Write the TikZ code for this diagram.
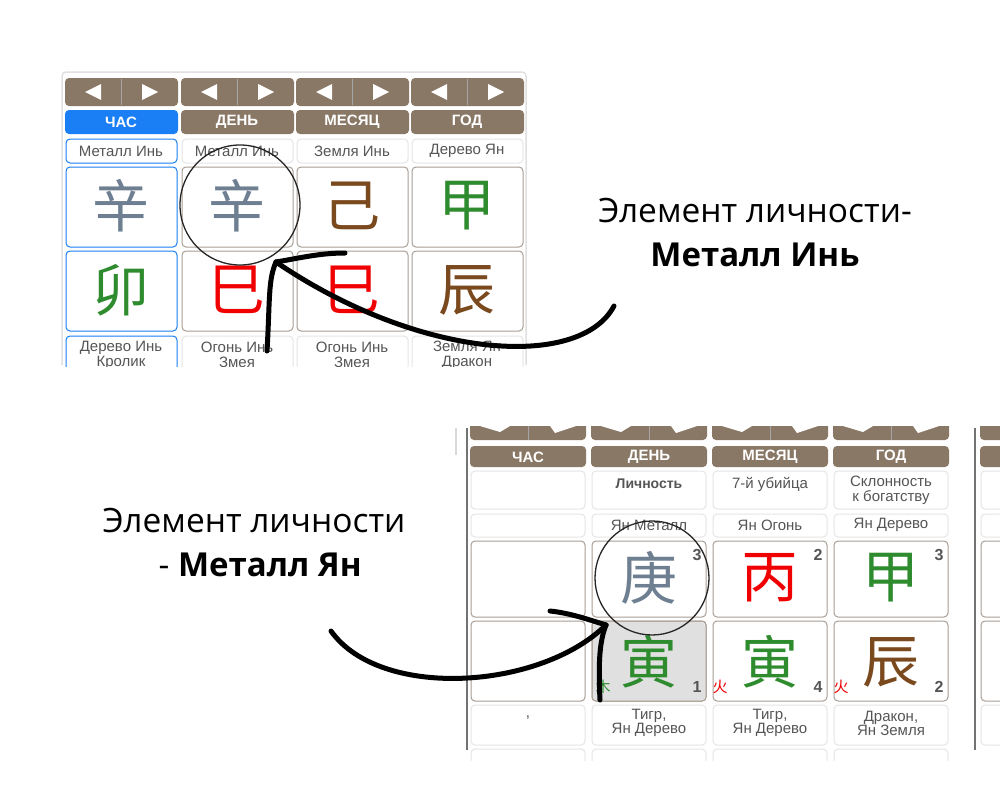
\documentclass[tikz,border=0pt]{standalone}
\usepackage{fontspec}
\setmainfont{Open Sans}
\newfontfamily\ar{Liberation Sans}
\newfontfamily\cjk{Noto Sans CJK SC}
\definecolor{btn}{HTML}{8A7866}
\definecolor{cellb}{HTML}{A89E94}
\definecolor{blu}{HTML}{1A7FF5}
\definecolor{stemg}{HTML}{6E7F92}
\definecolor{grn}{HTML}{2E8B2E}
\definecolor{brn}{HTML}{7A4A1E}
\definecolor{rd}{HTML}{F00000}
\definecolor{txg}{HTML}{555555}
\tikzset{
 cell/.style={draw=cellb,line width=1pt,rounded corners=4pt,fill=white},
 bcell/.style={draw=blu,line width=1pt,rounded corners=4pt,fill=white},
 lcell/.style={draw=black!10,line width=1pt,rounded corners=4pt,fill=white},
 hdr/.style={fill=btn,rounded corners=4pt},
 htxt/.style={text=white,font=\ar\bfseries\fontsize{15}{16}\selectfont},
 small/.style={text=txg,font=\ar\fontsize{15}{15}\selectfont,align=center},
 big/.style={font=\cjk\fontsize{57}{60}\selectfont},
 pen/.style={line width=5pt,line cap=round,black},
 ring/.style={draw=black!85,line width=1.3pt},
 captxt/.style={font=\fontsize{33.5}{38}\selectfont}
}
\begin{document}
\begin{tikzpicture}[x=1pt,y=-1pt]
\useasboundingbox (0,0) rectangle (1000,800);
\fill[white] (0,0) rectangle (1000,800);
% ===== top table =====
\draw[black!12,line width=1.5pt,rounded corners=4pt] (62,365) -- (62,72) -- (526,72) -- (526,365);
\foreach \x in {65,181,296,411}{
 \fill[hdr] (\x,78) rectangle +(113,28);
 \draw[black!35,line width=1pt] (\x+56,79) -- (\x+56,105);
 \fill[white] (\x+20,92) -- (\x+36,84) -- (\x+36,100) -- cycle;
 \fill[white] (\x+93,92) -- (\x+77,84) -- (\x+77,100) -- cycle;
}
\fill[blu,rounded corners=4pt] (65,110) rectangle (178,134);
\foreach \x in {181,296,411}{\fill[hdr] (\x,110) rectangle +(113,24);}
\node[htxt] (th1) at (121,122) {ЧАС};
\node[htxt] (th2) at (237,122) {ДЕНЬ};
\node[htxt] (th3) at (352,122) {МЕСЯЦ};
\node[htxt] (th4) at (467,122) {ГОД};
\draw[bcell] (66,139) rectangle (177,163);
\foreach \x in {182,297,412}{\draw[lcell] (\x,139) rectangle +(111,24);}
\node[small] (tl1) at (121,151) {Металл Инь};
\node[small] (tl2) at (237,151) {Металл Инь};
\node[small] (tl3) at (352,151) {Земля Инь};
\node[small] (tl4) at (467,151) {Дерево Ян};
\draw[bcell] (66,167) rectangle (177,247);
\draw[bcell] (66,251) rectangle (177,331);
\foreach \x in {182,297,412}{\draw[cell] (\x,167) rectangle +(111,80);\draw[cell] (\x,251) rectangle +(111,80);}
\node[big,text=stemg] (ts1) at (121,206) {辛};
\node[big,text=stemg] (ts2) at (237,206) {辛};
\node[big,text=brn] (ts3) at (352,206) {己};
\node[big,text=grn] (ts4) at (467,206) {甲};
\node[big,text=grn] (tb1) at (121,290) {卯};
\node[big,text=rd] (tb2) at (237,290) {巳};
\node[big,text=rd] (tb3) at (352,290) {巳};
\node[big,text=brn] (tb4) at (467,290) {辰};
\begin{scope}
\clip (50,334) rectangle (540,366);
\draw[bcell] (66,336) rectangle (177,380);
\foreach \x in {182,297,412}{\draw[lcell] (\x,336) rectangle +(111,44);}
\node[small] (tn1) at (121,355) {Дерево Инь\\Кролик};
\node[small] (tn2) at (237,355) {Огонь Инь\\Змея};
\node[small] (tn3) at (352,355) {Огонь Инь\\Змея};
\node[small] (tn4) at (467,355) {Земля Ян\\Дракон};
\end{scope}
\node[ring,circle,minimum size=120pt] (c1) at (240,205) {};
% ===== bottom table =====
\draw[black!55,line width=1.2pt] (467,428) -- (467,750);
\draw[black!55,line width=1.2pt] (975,428) -- (975,750);
\draw[black!15,line width=2pt] (456,428) -- (456,455);
\begin{scope}
\clip (460,426) rectangle (1000,760);
\foreach \x in {470,591,712,833}{
 \fill[hdr] (\x,418) rectangle +(116,22);
 \fill[white] (\x+10,426) -- (\x+40,426) -- (\x+30,432) -- cycle;
 \fill[white] (\x+80,426) -- (\x+106,426) -- (\x+85,433) -- cycle;
 \draw[black!35] (\x+58,426) -- (\x+58,440);
 \fill[hdr] (\x,446) rectangle +(116,21);
 \draw[lcell] (\x+1,471) rectangle +(114,38);
 \draw[lcell] (\x+1,514) rectangle +(114,23);
 \draw[cell] (\x+1,541) rectangle +(114,76);
 \draw[cell] (\x+1,621) rectangle +(114,80);
 \draw[lcell] (\x+1,705) rectangle +(114,40);
 \draw[lcell] (\x+1,749) rectangle +(114,30);
}
\fill[hdr] (980,446) rectangle +(30,21);
\fill[hdr] (980,418) rectangle +(30,22);
\draw[lcell] (981,471) rectangle +(30,38);
\draw[lcell] (981,514) rectangle +(30,23);
\draw[cell] (981,541) rectangle +(30,76);
\draw[cell] (981,621) rectangle +(30,80);
\draw[lcell] (981,705) rectangle +(30,40);
\end{scope}
\fill[black!12,rounded corners=4pt] (593,622) rectangle (705,700);
\draw[cell,fill=none] (592,621) rectangle +(114,80);
\node[htxt] (bh1) at (528,457) {ЧАС};
\node[htxt] (bh2) at (649,457) {ДЕНЬ};
\node[htxt] (bh3) at (770,457) {МЕСЯЦ};
\node[htxt] (bh4) at (891,457) {ГОД};
\node[small,font=\ar\bfseries\fontsize{14}{15}\selectfont] (br2) at (649,484) {Личность};
\node[small] (br3) at (770,484) {7-й убийца};
\node[small,font=\ar\fontsize{15}{15}\selectfont] (br4) at (891,490) {Склонность\\к богатству};
\node[small] (bl2) at (649,525) {Ян Металл};
\node[small] (bl3) at (770,525) {Ян Огонь};
\node[small] (bl4) at (891,525) {Ян Дерево};
\node[big,text=stemg] (bs2) at (649,578) {庚};
\node[big,text=rd] (bs3) at (770,578) {丙};
\node[big,text=grn] (bs4) at (891,578) {甲};
\node[big,text=grn] (bb2) at (649,662) {寅};
\node[big,text=grn] (bb3) at (770,662) {寅};
\node[big,text=brn] (bb4) at (891,662) {辰};
\tikzset{num/.style={text=txg,font=\ar\bfseries\fontsize{16}{16}\selectfont}}
\node[num] (n1) at (697,555) {3};
\node[num] (n2) at (818,555) {2};
\node[num] (n3) at (939,555) {3};
\node[num] (n4) at (697,687) {1};
\node[num] (n5) at (818,687) {4};
\node[num] (n6) at (939,687) {2};
\tikzset{tiny/.style={font=\cjk\fontsize{15}{15}\selectfont}}
\node[tiny,text=grn] (m1) at (603,687) {木};
\node[tiny,text=rd] (m2) at (720,687) {火};
\node[tiny,text=rd] (m3) at (841,687) {火};
\node[small,font=\ar\fontsize{15}{14}\selectfont] (bn2) at (649,723) {Тигр,\\Ян Дерево};
\node[small,font=\ar\fontsize{15}{14}\selectfont] (bn3) at (770,723) {Тигр,\\Ян Дерево};
\node[small,font=\ar\fontsize{15}{14}\selectfont] (bn4) at (891,723) {Дракон,\\Ян Земля};
\node[small] (bn1) at (528,718) {,};
\node[ring,circle,minimum size=114pt] (c2) at (652,578) {};
% ===== captions =====
\node[captxt] (cap1) at (755,211) {Элемент личности-};
\node[captxt,font=\bfseries\fontsize{33}{38}\selectfont] (cap2) at (755,255) {Металл Инь};
\node[captxt] (cap3) at (254,521) {Элемент личности};
\node[captxt,anchor=west] (cap4) at (155,565) {- \textbf{\fontsize{33}{38}\selectfont Металл Ян}};
% ===== arrows =====
\coordinate (a1s) at (614,306);
\coordinate (a1t) at (276,262);
\coordinate (a1e) at (267,351);
\coordinate (a1b) at (345,253);
\draw[pen] (a1s) .. controls (580,370) and (420,360) .. (a1t);
\draw[pen] (a1e) .. controls (270,300) and (268,280) .. (a1t);
\draw[pen] (a1t) .. controls (300,258) and (320,253) .. (a1b);
\coordinate (a2s) at (331,631);
\coordinate (a2t) at (606,625);
\coordinate (a2e) at (600,700);
\coordinate (a2b) at (550,611);
\draw[pen] (a2s) .. controls (380,700) and (540,690) .. (a2t);
\draw[pen] (a2e) .. controls (598,660) and (600,640) .. (a2t);
\draw[pen] (a2t) .. controls (590,620) and (570,613) .. (a2b);
\end{tikzpicture}
\end{document}
